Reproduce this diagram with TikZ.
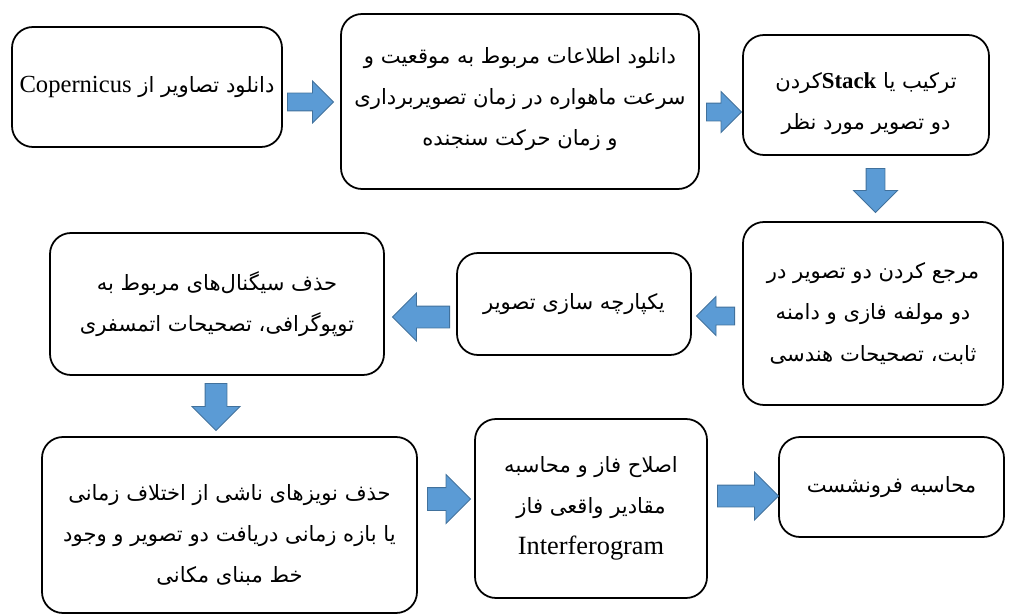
\documentclass[tikz,border=0pt]{standalone}
\usepackage{fontspec}
\setmainfont{Liberation Serif}
\newfontfamily\persianfont[Script=Arabic]{DejaVu Sans}
\TeXXeTstate=1
\usepackage{tikz}
\usetikzlibrary{shapes.arrows}

\definecolor{arrowfill}{HTML}{5B9BD5}
\definecolor{arrowline}{HTML}{41719C}

\newcommand{\fa}[1]{\beginR #1\endR}
\newcommand{\en}[1]{\beginL{\rmfamily #1}\endL}

\begin{document}
\begin{tikzpicture}[
  stepbox/.style={draw, line width=1pt, rounded corners=0.42cm, align=center,
    inner sep=0pt, font=\persianfont\fontsize{12}{23.5}\selectfont},
  flow/.style={single arrow, draw=arrowline, fill=arrowfill, line width=0.5pt,
    inner xsep=0pt, single arrow head indent=0pt, anchor=tail}
]

\useasboundingbox (0,0) rectangle (20.24,-12.3);

% first row
\node[stepbox, minimum width=5.4cm, minimum height=2.4cm] (download) at (2.94,-1.74)
  {\fa{دانلود تصاویر از \en{\fontsize{14}{16}\selectfont Copernicus}}};
\node[stepbox, minimum width=7.16cm, minimum height=3.5cm] (orbit) at (10.40,-2.03)
  {\\[-17pt]\fa{دانلود اطلاعات مربوط به موقعیت و}\\
   \fa{سرعت ماهواره در زمان تصویربرداری}\\
   \fa{و زمان حرکت سنجنده}};
\node[stepbox, minimum width=4.92cm, minimum height=2.4cm] (stack) at (17.32,-1.90)
  {\\[-5pt]\fa{ترکیب یا \en{\fontsize{13}{16}\selectfont\bfseries Stack}کردن}\\
   \fa{دو تصویر مورد نظر}};

% second row
\node[stepbox, minimum width=5.2cm, minimum height=3.66cm] (coreg) at (17.46,-6.27)
  {\fa{مرجع کردن دو تصویر در}\\
   \fa{دو مولفه فازی و دامنه}\\
   \fa{ثابت، تصحیحات هندسی}};
\node[stepbox, minimum width=4.68cm, minimum height=2.04cm] (merge) at (11.48,-6.08)
  {\fa{یکپارچه سازی تصویر}};
\node[stepbox, minimum width=6.68cm, minimum height=2.84cm] (topo) at (4.34,-6.08)
  {\fa{حذف سیگنال‌های مربوط به}\\
   \fa{توپوگرافی، تصحیحات اتمسفری}};

% third row
\node[stepbox, minimum width=7.5cm, minimum height=3.52cm] (noise) at (4.59,-10.50)
  {\\[-3pt]\fa{حذف نویزهای ناشی از اختلاف زمانی}\\
   \fa{یا بازه زمانی دریافت دو تصویر و وجود}\\
   \fa{خط مبنای مکانی}};
\node[stepbox, minimum width=4.64cm, minimum height=3.58cm] (unwrap) at (11.82,-10.17)
  {\fa{اصلاح فاز و محاسبه}\\
   \fa{مقادیر واقعی فاز}\\
   {\rmfamily\fontsize{15}{23.5}\selectfont Interferogram}};
\node[stepbox, minimum width=4.5cm, minimum height=2.0cm] (subsid) at (17.83,-9.74)
  {\fa{محاسبه فرونشست}};

% block arrows (placed by their tail)
\node[flow, minimum height=0.92cm, minimum width=0.82cm, inner ysep=0.17cm, single arrow head extend=0.24cm] (a1) at (5.74,-2.04) {};
\node[flow, minimum height=0.70cm, minimum width=0.80cm, inner ysep=0.17cm, single arrow head extend=0.23cm] (a2) at (14.12,-2.24) {};
\node[flow, minimum height=0.88cm, minimum width=0.86cm, inner ysep=0.18cm, single arrow head extend=0.25cm, rotate=-90] (a3) at (17.51,-3.36) {};
\node[flow, minimum height=0.76cm, minimum width=0.76cm, inner ysep=0.17cm, single arrow head extend=0.21cm, rotate=180] (a4) at (14.70,-6.32) {};
\node[flow, minimum height=1.14cm, minimum width=0.94cm, inner ysep=0.21cm, single arrow head extend=0.26cm, rotate=180] (a5) at (9.00,-6.34) {};
\node[flow, minimum height=0.94cm, minimum width=0.94cm, inner ysep=0.21cm, single arrow head extend=0.26cm, rotate=-90] (a6) at (4.32,-7.66) {};
\node[flow, minimum height=0.86cm, minimum width=0.96cm, inner ysep=0.22cm, single arrow head extend=0.26cm] (a7) at (8.54,-9.98) {};
\node[flow, minimum height=1.22cm, minimum width=0.94cm, inner ysep=0.21cm, single arrow head extend=0.26cm] (a8) at (14.34,-9.92) {};

\end{tikzpicture}
\end{document}
